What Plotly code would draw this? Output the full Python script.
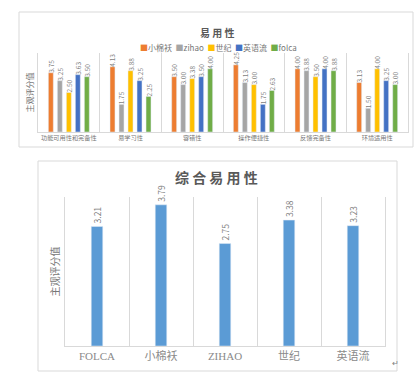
import plotly.graph_objects as go

W, H = 419, 381

# ---------------- data ----------------
categories = ["功能可用性和完备性", "易学习性", "容错性", "操作便捷性", "反馈完备性", "环境适用性"]
series_names = ["小棉袄", "zihao", "世纪", "英语流", "folca"]
series_colors = ["#ED7D31", "#A5A5A5", "#FFC000", "#4472C4", "#70AD47"]
xiaomianao = [3.75, 4.13, 3.50, 4.25, 4.00, 3.13]
zihao = [3.25, 1.75, 3.00, 3.13, 3.88, 1.50]
shiji = [2.50, 3.88, 3.38, 3.00, 3.50, 4.00]
yingyuliu = [3.63, 3.25, 3.50, 1.75, 4.00, 3.25]
folca = [3.50, 2.25, 4.00, 2.63, 3.88, 3.00]
series_values = [xiaomianao, zihao, shiji, yingyuliu, folca]

overall_labels = ["FOLCA", "小棉袄", "ZIHAO", "世纪", "英语流"]
overall_values = [3.21, 3.79, 2.75, 3.38, 3.23]

FONT = "Noto Sans CJK SC, Noto Sans, sans-serif"
SERIF = "Liberation Serif, Noto Sans CJK SC, serif"
GRID = "#d9d9d9"
TXT = "#595959"


def px_x(p):
    return p / W


def px_y(p):
    return 1 - p / H


fig = go.Figure()

for name, color, vals in zip(series_names, series_colors, series_values):
    fig.add_trace(go.Bar(
        x=categories, y=vals, name=name, marker_color=color,
        text=[f"{v:.2f}" for v in vals], textposition="outside", textangle=-90,
        constraintext="none", cliponaxis=False,
        textfont=dict(size=6.5, color="#7f7f7f", family=FONT),
        xaxis="x", yaxis="y", showlegend=False,
    ))

fig.add_trace(go.Bar(
    x=overall_labels, y=overall_values, marker_color="#5B9BD5", width=0.18,
    text=[f"{v:.2f}" for v in overall_values], textposition="outside", textangle=-90,
    constraintext="none", cliponaxis=False,
    textfont=dict(size=8.5, color="#7f7f7f", family=FONT),
    xaxis="x2", yaxis="y2", showlegend=False,
))

fig.update_layout(
    width=W, height=H, margin=dict(l=0, r=0, t=0, b=0),
    paper_bgcolor="white", plot_bgcolor="white",
    barmode="group", bargap=0.27, bargroupgap=0.45,
    font=dict(family=FONT, color=TXT),
    xaxis=dict(domain=[px_x(38), px_x(408)], anchor="y", showgrid=True, gridcolor=GRID,
               tickson="boundaries", ticks="", showline=True, linecolor=GRID, tickangle=0,
               tickfont=dict(size=6.2, color="#767676", family=FONT), ticklen=0),
    yaxis=dict(domain=[px_y(132), px_y(53)], anchor="x", range=[0, 5], showgrid=False,
               showticklabels=False, zeroline=False, showline=True, mirror=True,
               linecolor=GRID, ticks="",
               title=dict(text="主观评分值", font=dict(size=8, color="#767676"), standoff=2)),
    xaxis2=dict(domain=[px_x(65), px_x(385)], anchor="y2", showgrid=True, gridcolor=GRID,
                tickson="boundaries", ticks="", showline=True, linecolor=GRID, tickangle=0,
                tickfont=dict(size=11, color="#8a8a8a", family=SERIF)),
    yaxis2=dict(domain=[px_y(346), px_y(197)], anchor="x2", range=[0, 4], showgrid=False,
                showticklabels=False, zeroline=False, showline=True, mirror=True,
                linecolor=GRID, ticks="",
                title=dict(text="主观评分值", font=dict(size=10, color="#767676"), standoff=2)),
)

# chart boxes
for x0, y0, x1, y1 in [(19, 12, 413, 147), (38, 161, 397, 371)]:
    fig.add_shape(type="rect", xref="paper", yref="paper",
                  x0=px_x(x0), x1=px_x(x1), y0=px_y(y1), y1=px_y(y0),
                  line=dict(color=GRID, width=1), fillcolor="rgba(0,0,0,0)", layer="below")

# titles
fig.add_annotation(text="<b>易 用 性</b>", xref="paper", yref="paper", x=px_x(217), y=px_y(23),
                   showarrow=False, font=dict(size=10, color=TXT))
fig.add_annotation(text="<b>综 合 易 用 性</b>", xref="paper", yref="paper", x=px_x(216), y=px_y(177),
                   showarrow=False, font=dict(size=14, color=TXT))

# legend (top chart)
legend_text = "  ".join(f"<span style='color:{c}'>■</span>{n}" for n, c in zip(series_names, series_colors))
fig.add_annotation(text=legend_text, xref="paper", yref="paper", x=px_x(218), y=px_y(40),
                   showarrow=False, font=dict(size=8, color="#767676"))

fig.add_annotation(text="↵", xref="paper", yref="paper", x=px_x(401), y=px_y(370),
                   showarrow=False, font=dict(size=8, color="#7f7f7f"))

fig.write_html("out.html")
